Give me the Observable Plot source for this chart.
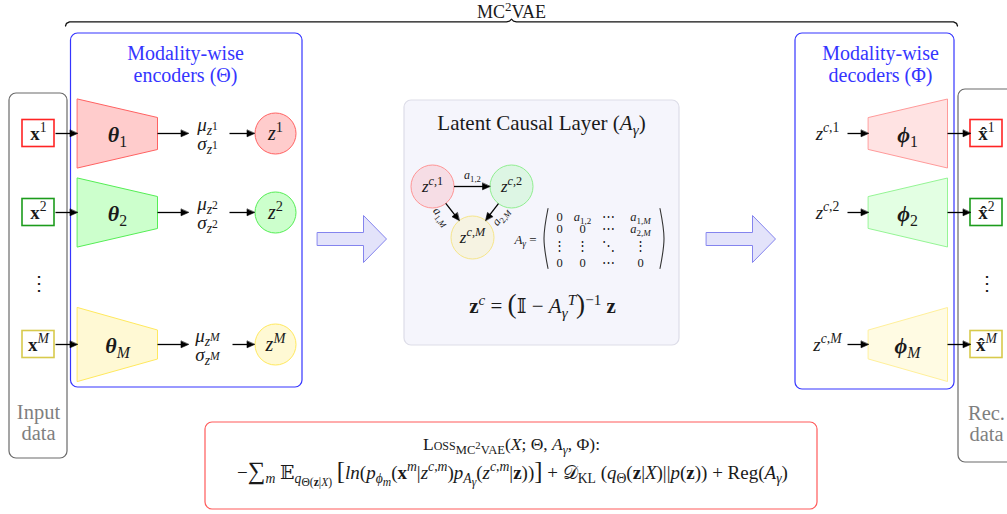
<!DOCTYPE html>
<html><head><meta charset="utf-8">
<script src="https://cdn.jsdelivr.net/npm/d3@7"></script>
<script src="https://cdn.jsdelivr.net/npm/@observablehq/plot@0.6"></script>
<style>body{margin:0;background:#fff} svg{display:block}</style>
</head><body><div id="chart"></div>
<script>
// ---------- content (labels / categories) ----------
const modalities = ["1", "2", "M"];
const inputLabels = ["@b{x}^{1}", "@b{x}^{2}", "@b{x}^{@i{M}}"];
const encoderLabels = ["@bi{θ}_{1}", "@bi{θ}_{2}", "@bi{θ}_{@i{M}}"];
const muLabels = ["@i{μ}_{@i{z}^{1}}", "@i{μ}_{@i{z}^{2}}", "@i{μ}_{@i{z}^{@i{M}}}"];
const sigmaLabels = ["@i{σ}_{@i{z}^{1}}", "@i{σ}_{@i{z}^{2}}", "@i{σ}_{@i{z}^{@i{M}}}"];
const latentLabels = ["@i{z}^{1}", "@i{z}^{2}", "@i{z}^{@i{M}}"];
const causalLabels = ["@i{z}^{@i{c},1}", "@i{z}^{@i{c},2}", "@i{z}^{@i{c},@i{M}}"];
const decoderLabels = ["@bi{ϕ}_{1}", "@bi{ϕ}_{2}", "@bi{ϕ}_{@i{M}}"];
const outputLabels = ["@b{x\u0302}^{1}", "@b{x\u0302}^{2}", "@b{x\u0302}^{@i{M}}"];
const causalEdges = [
  {from: "1", to: "2", label: "@i{a}_{1,2}"},
  {from: "1", to: "M", label: "@i{a}_{1,@i{M}}"},
  {from: "2", to: "M", label: "@i{a}_{2,@i{M}}"}
];
const matrixRows = [
  ["0", "@i{a}_{1,2}", "⋯", "@i{a}_{1,@i{M}}"],
  ["0", "0", "⋯", "@i{a}_{2,@i{M}}"],
  ["⋮", "⋮", "⋱", "⋮"],
  ["0", "0", "⋯", "0"]
];
const titleText = "MC^{2}VAE";
const encoderTitle = ["Modality-wise", "encoders (Θ)"];
const decoderTitle = ["Modality-wise", "decoders (Φ)"];
const inputTitle = ["Input", "data"];
const recTitle = ["Rec.", "data"];
const latentTitle = "Latent Causal Layer (@i{A}_{@i{γ}})";
const matrixName = "@i{A}_{@i{γ}} =";
const latentEquation = "@b{z}^{@i{c}} = @big{(}𝕀 − @i{A}_{@i{γ}}^{@i{T}}@big{)}^{−1} @b{z}";
const lossLine1 = "@sc{Loss}_{MC^{2}VAE}(@i{X}; Θ, @i{A}_{@i{γ}}, Φ):";
const lossLine2 = "−@big{∑}_{@i{m}} 𝔼_{@i{q}_{Θ(@b{z}|@i{X})}} @big{[}@i{ln}(@i{p}_{@i{ϕ}_{@i{m}}}(@b{x}^{@i{m}}|@i{z}^{@i{c},@i{m}})@i{p}_{@i{A}_{@i{γ}}}(@i{z}^{@i{c},@i{m}}|@b{z}))@big{]} + 𝒟_{KL} (@i{q}_{Θ}(@b{z}|@i{X})||@i{p}(@b{z})) + Reg(@i{A}_{@i{γ}})";

// ---------- styling ----------
const boxStroke = ["#ff2424", "#1c9c1c", "#d8ca4c"];
const encFill = ["#ffcccc", "#ccffcc", "#fff9d4"];
const encStroke = ["#ff6262", "#55ee55", "#ffe95e"];
const decFill = ["#ffe3e3", "#e3ffe3", "#fffbe3"];
const decStroke = ["#ff9a9a", "#95f595", "#fff09a"];
const causalFill = ["#f6dde5", "#ddf6e4", "#f6f3e2"];
const causalStroke = ["#ff9494", "#90ee90", "#f5e58a"];
const blue = "#3535ff";
const ink = "#1a1a1a";

// ---------- layout ----------
const rowY = [133, 212, 344];
const causalPos = {"1": [432, 186], "2": [511, 186], "M": [472, 237]};
const causalR = 21.5;

const panels = [
  {x1: 9, x2: 67, y1: 93, y2: 458, fill: "none", stroke: "#6a6a6a"},
  {x1: 70.5, x2: 302, y1: 33, y2: 387, fill: "none", stroke: blue},
  {x1: 404, x2: 679, y1: 100, y2: 345, fill: "#f5f5fc", stroke: "#dddde8"},
  {x1: 795, x2: 954, y1: 33, y2: 389, fill: "none", stroke: blue},
  {x1: 958, x2: 1030, y1: 89, y2: 462, fill: "none", stroke: "#6a6a6a"},
  {x1: 205, x2: 817, y1: 422, y2: 509, fill: "none", stroke: "#ff5a5a"}
];

const smallBoxes = [];
rowY.forEach((y, i) => {
  smallBoxes.push({x1: 22, x2: 54, y1: y - 13.5, y2: y + 13.5, stroke: boxStroke[i]});
  smallBoxes.push({x1: 970, x2: 1002, y1: y - 13.5, y2: y + 13.5, stroke: boxStroke[i]});
});

function trap(xl, hl, xr, hr, yc) {
  return [[xl, yc - hl], [xr, yc - hr], [xr, yc + hr], [xl, yc + hl]].map(([x, y]) => ({x, y}));
}
const shapes = [];
rowY.forEach((y, i) => {
  const big = i === 2 ? 37 : 34.5, small = i === 2 ? 14.5 : 16;
  shapes.push({pts: trap(77, big, 157, small, y), fill: encFill[i], stroke: encStroke[i]});
  shapes.push({pts: trap(868, small, 947, big, y), fill: decFill[i], stroke: decStroke[i]});
});
function blockArrow(x0, xh, xt, yc) {
  return [[x0, yc - 6.5], [xh, yc - 6.5], [xh, yc - 23.5], [xt, yc], [xh, yc + 23.5], [xh, yc + 6.5], [x0, yc + 6.5]].map(([x, y]) => ({x, y}));
}
shapes.push({pts: blockArrow(317, 363, 386, 238.5), fill: "#e3e3fa", stroke: "#8484ee"});
shapes.push({pts: blockArrow(706, 752, 775, 238.5), fill: "#e3e3fa", stroke: "#8484ee"});

const encCircles = rowY.map((y, i) => ({x: 275, y, fill: encFill[i], stroke: encStroke[i]}));
const causalCircles = modalities.map((m, i) => ({x: causalPos[m][0], y: causalPos[m][1], fill: causalFill[i], stroke: causalStroke[i]}));

const arrows = [];
rowY.forEach((y, i) => {
  arrows.push({x1: 55, y1: y, x2: 77, y2: y});
  arrows.push({x1: 157, y1: y, x2: 188, y2: y});
  arrows.push({x1: i === 2 ? 232 : 229, y1: y, x2: 254, y2: y});
  arrows.push({x1: 847, y1: y, x2: 868, y2: y});
  arrows.push({x1: 947, y1: y, x2: 970, y2: y});
});
causalEdges.forEach(e => {
  const [ax, ay] = causalPos[e.from], [bx, by] = causalPos[e.to];
  const L = Math.hypot(bx - ax, by - ay), ux = (bx - ax) / L, uy = (by - ay) / L;
  arrows.push({x1: ax + ux * causalR, y1: ay + uy * causalR, x2: bx - ux * causalR, y2: by - uy * causalR});
});
const heads = arrows.flatMap((a, k) => {
  const L = Math.hypot(a.x2 - a.x1, a.y2 - a.y1), ux = (a.x2 - a.x1) / L, uy = (a.y2 - a.y1) / L;
  const hl = 7.5, hw = 3.3, bx = a.x2 - ux * hl, by = a.y2 - uy * hl;
  return [{k, x: a.x2, y: a.y2}, {k, x: bx - uy * hw, y: by + ux * hw}, {k, x: bx + uy * hw, y: by - ux * hw}];
});
const shafts = arrows.map(a => {
  const L = Math.hypot(a.x2 - a.x1, a.y2 - a.y1);
  return {x1: a.x1, y1: a.y1, x2: a.x2 - (a.x2 - a.x1) / L * 5, y2: a.y2 - (a.y2 - a.y1) / L * 5};
});

const brace = [[65, 25.5], [66, 22.8], [69, 21.3], [506, 21.3], [509, 20.6], [511, 18.6], [513, 20.6], [516, 21.3], [953, 21.3], [956, 22.8], [957, 25.5]].map(([x, y]) => ({x, y}));
const parens = [
  [[547.5, 208], [543.5, 238], [547.5, 268]],
  [[659.5, 208], [663.5, 238], [659.5, 268]]
].map(p => p.map(([x, y]) => ({x, y})));

const texts = [];
const T = (x, y, text, o = {}) => texts.push({x, y, text, size: 15, color: ink, rot: 0, ...o});
T(511, 11.5, titleText, {size: 18});
encoderTitle.forEach((t, i) => T(185, 53 + 22 * i, t, {size: 20, color: blue}));
decoderTitle.forEach((t, i) => T(880, 53 + 22 * i, t, {size: 20, color: blue}));
inputTitle.forEach((t, i) => T(38, 412 + 21 * i, t, {size: 20.5, color: "#7f7f7f"}));
recTitle.forEach((t, i) => T(986, 413 + 21 * i, t, {size: 20.5, color: "#7f7f7f"}));
rowY.forEach((y, i) => {
  T(38, y, inputLabels[i], {size: 19});
  T(986, y, outputLabels[i], {size: 19});
  T(117, y + 1, encoderLabels[i], {size: 22});
  T(207, y - 9, muLabels[i], {size: 19});
  T(207, y + 10, sigmaLabels[i], {size: 19});
  T(275, y, latentLabels[i], {size: 20});
  T(827, y, causalLabels[i], {size: 19});
  T(907, y + 1, decoderLabels[i], {size: 22});
});
T(38, 283, "⋮", {size: 20});
T(986, 283, "⋮", {size: 20});
T(541, 123, latentTitle, {size: 21});
modalities.forEach((m, i) => T(causalPos[m][0], causalPos[m][1], causalLabels[i], {size: 17}));
T(472, 175, causalEdges[0].label, {size: 12});
T(441, 216, causalEdges[1].label, {size: 12, rot: 52});
T(500, 216, causalEdges[2].label, {size: 12, rot: -52});
T(525, 239, matrixName, {size: 13});
const colX = [559, 582, 608, 640], rowMY = [216, 228, 245, 262];
matrixRows.forEach((row, r) => row.forEach((c, j) => T(colX[j], rowMY[r], c, {size: 12.5})));
T(542, 306, latentEquation, {size: 21});
T(511, 444, lossLine1, {size: 17.5});
T(512, 472, lossLine2, {size: 19});

// ---------- plot ----------
const chart = Plot.plot({
  width: 1007, height: 514, margin: 0,
  x: {domain: [0, 1007], range: [0, 1007], axis: null},
  y: {domain: [0, 514], range: [0, 514], axis: null},
  color: {type: "identity"},
  style: {fontFamily: "'Liberation Serif', 'DejaVu Serif', serif", background: "white", overflow: "hidden"},
  marks: [
    Plot.line(brace, {x: "x", y: "y", stroke: "#111", strokeWidth: 1.3}),
    Plot.rect(panels, {x1: "x1", x2: "x2", y1: "y1", y2: "y2", fill: "fill", stroke: "stroke", rx: 7, strokeWidth: 1.2}),
    Plot.rect(smallBoxes, {x1: "x1", x2: "x2", y1: "y1", y2: "y2", fill: "white", stroke: "stroke", strokeWidth: 1.6}),
    ...shapes.map(s => Plot.line(s.pts, {x: "x", y: "y", fill: s.fill, stroke: s.stroke, strokeWidth: 1, curve: "linear-closed"})),
    Plot.dot(encCircles, {x: "x", y: "y", r: 20.5, fill: "fill", stroke: "stroke", strokeWidth: 1}),
    Plot.dot(causalCircles, {x: "x", y: "y", r: causalR, fill: "fill", stroke: "stroke", strokeWidth: 1}),
    Plot.link(shafts, {x1: "x1", y1: "y1", x2: "x2", y2: "y2", stroke: "#000", strokeWidth: 1.3}),
    Plot.line(heads, {x: "x", y: "y", z: "k", fill: "#000", stroke: "#000", strokeWidth: 0.6, curve: "linear-closed"}),
    ...parens.map(p => Plot.line(p, {x: "x", y: "y", stroke: "#333", strokeWidth: 1.1, curve: "natural"})),
    Plot.text(texts, {x: "x", y: "y", text: "text", fontSize: "size", fill: "color", rotate: "rot"})
  ]
});
document.getElementById("chart").appendChild(chart);

// ---------- light TeX-like markup → tspans ----------
function parseMarkup(s) {
  let i = 0;
  function seq() {
    const out = []; let buf = "";
    const flush = () => { if (buf) { out.push({t: "text", s: buf}); buf = ""; } };
    while (i < s.length) {
      const c = s[i];
      if (c === "}") { i++; flush(); return out; }
      if ((c === "^" || c === "_") && s[i + 1] === "{") { flush(); i += 2; out.push({t: c === "^" ? "sup" : "sub", kids: seq()}); continue; }
      if (c === "@") {
        let j = i + 1, name = "";
        while (j < s.length && /[a-z]/.test(s[j])) name += s[j++];
        if (s[j] === "{") { flush(); i = j + 1; out.push({t: name, kids: seq()}); continue; }
      }
      buf += c; i++;
    }
    flush(); return out;
  }
  return seq();
}
const NS = "http://www.w3.org/2000/svg";
function build(nodes, parent, size, depth) {
  for (const n of nodes) {
    if (n.t === "text") { parent.appendChild(document.createTextNode(n.s)); continue; }
    const ts = document.createElementNS(NS, "tspan");
    let sz = size, d = depth;
    if (n.t === "sup" || n.t === "sub") {
      sz = size * (depth === 0 ? 0.72 : 0.85); d = depth + 1;
      ts.setAttribute("font-size", sz + "px");
      ts.setAttribute("baseline-shift", (n.t === "sup" ? size * 0.4 : -size * 0.22) + "px");
    }
    else if (n.t === "b") { ts.setAttribute("font-weight", "bold"); ts.setAttribute("font-style", "normal"); }
    else if (n.t === "bi") { ts.setAttribute("font-weight", "bold"); ts.setAttribute("font-style", "italic"); }
    else if (n.t === "i") { ts.setAttribute("font-style", "italic"); }
    else if (n.t === "r") { ts.setAttribute("font-style", "normal"); }
    else if (n.t === "sc") { ts.setAttribute("font-variant", "small-caps"); }
    else if (n.t === "big") { sz = size * 1.3; ts.setAttribute("font-size", sz + "px"); }
    build(n.kids, ts, sz, d);
    parent.appendChild(ts);
  }
}
chart.querySelectorAll("text").forEach(el => {
  const s = el.textContent;
  if (!/[\^_@]/.test(s) || el.children.length) return;
  const size = parseFloat(getComputedStyle(el).fontSize);
  const nodes = parseMarkup(s);
  while (el.firstChild) el.removeChild(el.firstChild);
  build(nodes, el, size, 0);
});
</script></body></html>
